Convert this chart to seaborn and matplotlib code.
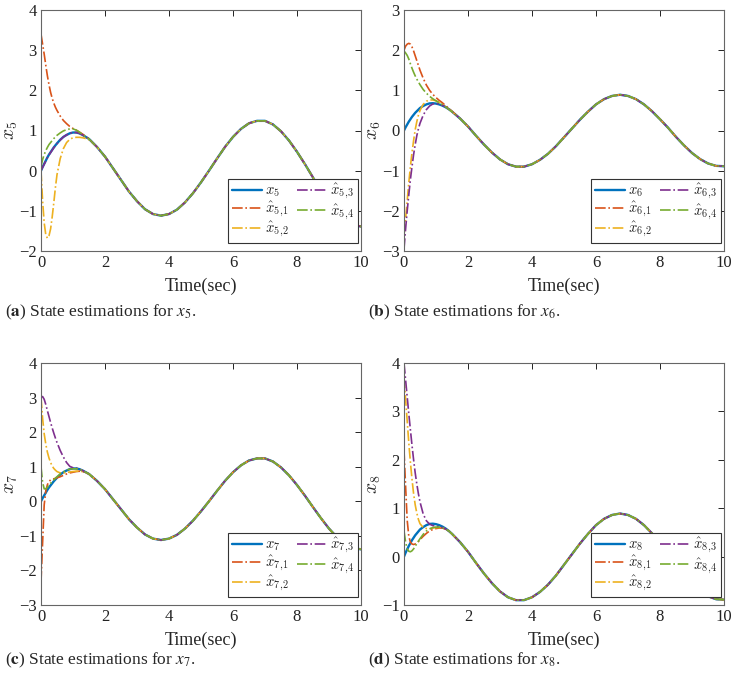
import numpy as np
import pandas as pd
import seaborn as sns
import matplotlib
matplotlib.use('Agg')
import matplotlib.pyplot as plt

# time grid: dense during the transient, coarser once the estimates have converged
t_early = [0, 0.05, 0.1, 0.15, 0.2, 0.25, 0.3, 0.35, 0.4, 0.45, 0.5,
           0.6, 0.7, 0.8, 0.9, 1.0, 1.1, 1.2, 1.3, 1.4, 1.5]
t_late = [1.75, 2.0, 2.25, 2.5, 2.75, 3.0, 3.25, 3.5, 3.75, 4.0, 4.25, 4.5,
          4.75, 5.0, 5.25, 5.5, 5.75, 6.0, 6.25, 6.5, 6.75, 7.0, 7.25, 7.5,
          7.75, 8.0, 8.25, 8.5, 8.75, 9.0, 9.25, 9.5, 9.75, 10.0]

# true states (x5 and x7 trace the same path, so do x6 and x8)
x5_early = [0, 0.09, 0.17, 0.25, 0.33, 0.40, 0.46, 0.52, 0.58, 0.63, 0.68,
            0.77, 0.84, 0.89, 0.93, 0.95, 0.95, 0.93, 0.89, 0.84, 0.79]
x5_late = [0.59, 0.35, 0.06, -0.23, -0.52, -0.76, -0.96, -1.08, -1.12, -1.08,
           -0.97, -0.79, -0.56, -0.29, 0.00, 0.30, 0.59, 0.84, 1.04, 1.18,
           1.24, 1.24, 1.15, 0.98, 0.75, 0.47, 0.16, -0.17, -0.49, -0.79,
           -1.04, -1.23, -1.35, -1.39]
x6_early = [0, 0.08, 0.15, 0.22, 0.28, 0.34, 0.39, 0.44, 0.48, 0.52, 0.56,
            0.61, 0.65, 0.675, 0.68, 0.67, 0.65, 0.62, 0.58, 0.53, 0.47]
x6_late = [0.30, 0.10, -0.13, -0.35, -0.55, -0.72, -0.84, -0.90, -0.90, -0.84,
           -0.73, -0.58, -0.39, -0.17, 0.05, 0.27, 0.47, 0.65, 0.78, 0.86,
           0.89, 0.86, 0.78, 0.65, 0.48, 0.28, 0.07, -0.16, -0.37, -0.56,
           -0.71, -0.82, -0.88, -0.89]
x7_early = x5_early
x7_late = x5_late
x8_early = x6_early
x8_late = x6_late

# observer estimates during the transient (they follow the true state afterwards)
x5_1 = [3.40, 3.15, 2.90, 2.62, 2.36, 2.14, 1.95, 1.80, 1.68, 1.58, 1.50,
        1.36, 1.25, 1.17, 1.10, 1.05, 1.01, 0.96, 0.91, 0.85, 0.79]
x5_2 = [0.0, -0.75, -1.30, -1.60, -1.68, -1.62, -1.45, -1.15, -0.80, -0.42, -0.10,
        0.30, 0.55, 0.70, 0.78, 0.82, 0.83, 0.83, 0.82, 0.80, 0.77]
x5_3 = [0, 0.08, 0.16, 0.24, 0.32, 0.39, 0.45, 0.51, 0.57, 0.62, 0.67,
        0.76, 0.84, 0.89, 0.93, 0.95, 0.95, 0.93, 0.89, 0.84, 0.79]
x5_4 = [0.10, 0.28, 0.40, 0.50, 0.58, 0.65, 0.70, 0.75, 0.80, 0.84, 0.88,
        0.94, 0.99, 1.02, 1.04, 1.04, 1.01, 0.96, 0.90, 0.84, 0.79]

x6_1 = [2.00, 2.10, 2.15, 2.17, 2.15, 2.08, 1.98, 1.86, 1.74, 1.62, 1.50,
        1.30, 1.13, 1.00, 0.90, 0.82, 0.75, 0.69, 0.62, 0.55, 0.48]
x6_2 = [-2.60, -2.20, -1.75, -1.30, -0.90, -0.55, -0.25, 0.02, 0.22, 0.38, 0.50,
        0.65, 0.73, 0.76, 0.76, 0.74, 0.70, 0.65, 0.59, 0.53, 0.47]
x6_3 = [-2.95, -2.45, -2.00, -1.60, -1.22, -0.90, -0.60, -0.35, -0.13, 0.04, 0.18,
        0.38, 0.52, 0.61, 0.66, 0.67, 0.66, 0.63, 0.59, 0.535, 0.47]
x6_4 = [1.98, 1.93, 1.87, 1.78, 1.66, 1.55, 1.45, 1.36, 1.28, 1.21, 1.14,
        1.02, 0.93, 0.85, 0.79, 0.74, 0.69, 0.64, 0.59, 0.53, 0.47]

x7_1 = [-2.33, -1.20, -0.10, 0.30, 0.48, 0.57, 0.62, 0.64, 0.65, 0.66, 0.68,
        0.71, 0.75, 0.79, 0.82, 0.84, 0.86, 0.87, 0.86, 0.83, 0.79]
x7_2 = [3.00, 2.40, 1.95, 1.65, 1.42, 1.25, 1.12, 1.02, 0.95, 0.90, 0.86,
        0.82, 0.82, 0.83, 0.85, 0.86, 0.87, 0.87, 0.86, 0.83, 0.79]
x7_3 = [3.00, 3.03, 2.95, 2.80, 2.62, 2.45, 2.28, 2.12, 1.97, 1.83, 1.70,
        1.47, 1.28, 1.12, 1.01, 0.97, 0.96, 0.93, 0.89, 0.84, 0.79]
x7_4 = [1.00, 0.55, 0.36, 0.36, 0.41, 0.46, 0.52, 0.57, 0.62, 0.67, 0.71,
        0.79, 0.85, 0.90, 0.93, 0.94, 0.94, 0.93, 0.89, 0.84, 0.79]

x8_1 = [2.20, 1.45, 0.75, 0.42, 0.30, 0.26, 0.25, 0.26, 0.28, 0.31, 0.35,
        0.42, 0.48, 0.53, 0.56, 0.58, 0.59, 0.59, 0.57, 0.53, 0.47]
x8_2 = [3.70, 3.25, 2.80, 2.35, 1.95, 1.60, 1.30, 1.07, 0.90, 0.77, 0.68,
        0.60, 0.58, 0.58, 0.59, 0.60, 0.60, 0.59, 0.57, 0.53, 0.47]
x8_3 = [4.00, 3.65, 3.30, 2.95, 2.62, 2.30, 2.00, 1.73, 1.50, 1.30, 1.13,
        0.88, 0.74, 0.67, 0.64, 0.63, 0.62, 0.60, 0.57, 0.53, 0.47]
x8_4 = [0.53, 0.30, 0.16, 0.11, 0.10, 0.12, 0.16, 0.21, 0.27, 0.32, 0.37,
        0.46, 0.53, 0.57, 0.60, 0.61, 0.61, 0.60, 0.57, 0.53, 0.47]

colors = ['#0072BD', '#D95319', '#EDB120', '#7E2F8E', '#77AC30']

sns.set_theme(style='white')
plt.rcParams['font.family'] = ['Liberation Serif', 'DejaVu Serif']
plt.rcParams['mathtext.fontset'] = 'cm'

fig = plt.figure(figsize=(7.35, 6.82), dpi=100)

W, H = 735, 682
# panel boxes in pixels: left, top, right, bottom
boxes = [(41, 10, 361, 251), (404, 10, 724, 251),
         (41, 363, 361, 605), (404, 363, 724, 605)]
panels = [
    (5, x5_early, x5_late, [x5_1, x5_2, x5_3, x5_4], (-2, 4), 'a'),
    (6, x6_early, x6_late, [x6_1, x6_2, x6_3, x6_4], (-3, 3), 'b'),
    (7, x7_early, x7_late, [x7_1, x7_2, x7_3, x7_4], (-3, 4), 'c'),
    (8, x8_early, x8_late, [x8_1, x8_2, x8_3, x8_4], (-1, 4), 'd'),
]
cap_y = [312, 312, 660, 660]
cap_x = [5, 368, 5, 368]

t_all = t_early + t_late
for i, (n, xe, xl, ests, ylim, letter) in enumerate(panels):
    l, t, r, b = boxes[i]
    ax = fig.add_axes([l / W, 1 - b / H, (r - l) / W, (b - t) / H])
    sns.lineplot(x=t_all, y=xe + xl, ax=ax, color=colors[0], lw=1.7,
                 label=rf'$x_{n}$', sort=False)
    for k, est in enumerate(ests):
        sns.lineplot(x=t_all, y=est + xl, ax=ax, color=colors[k + 1], lw=1.2,
                     linestyle='-.', label=rf'$\hat{{x}}_{{{n},\!{k + 1}}}$', sort=False)
    ax.set_xlim(0, 10)
    ax.set_ylim(*ylim)
    ax.set_xticks([0, 2, 4, 6, 8, 10])
    ax.set_yticks(range(ylim[0], ylim[1] + 1))
    ax.tick_params(direction='in', length=4, width=0.7, top=True, right=True,
                   labelsize=12, pad=3, colors='#222222')
    for sp in ax.spines.values():
        sp.set_color('#666666')
        sp.set_linewidth(0.8)
    ax.set_xlabel('Time(sec)', fontsize=13, labelpad=5)
    ax.set_ylabel(rf'$x_{n}$', fontsize=14, labelpad=-1)
    leg = ax.legend(loc='lower right', bbox_to_anchor=(0.99, 0.033), borderaxespad=0,
                    ncol=2, fontsize=10.5, handlelength=2.1, handletextpad=0.2,
                    columnspacing=0.5, labelspacing=0.05, borderpad=0.25,
                    fancybox=False, framealpha=1)
    leg.get_frame().set_edgecolor('#333333')
    leg.get_frame().set_linewidth(0.8)
    fig.text(cap_x[i] / W, 1 - cap_y[i] / H,
             rf'($\mathbf{{{letter}}}$) State estimations for $x_{n}$.',
             ha='left', va='center', fontsize=12.5, math_fontfamily='stix')

fig.savefig('out.png', dpi=100)
